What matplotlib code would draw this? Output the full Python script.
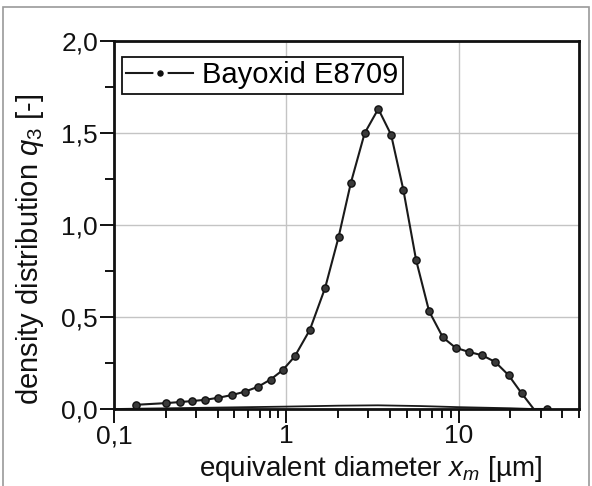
import matplotlib
matplotlib.use("Agg")
import matplotlib.pyplot as plt
from matplotlib.lines import Line2D
from matplotlib.patches import Rectangle
from matplotlib.ticker import FixedLocator, FuncFormatter, LogLocator, MultipleLocator

# particle size distribution
diameter = [0.135, 0.201, 0.243, 0.283, 0.338, 0.403, 0.484, 0.574, 0.686, 0.81,
            0.953, 1.12, 1.37, 1.68, 2.01, 2.37, 2.85, 3.42, 4.06, 4.78,
            5.67, 6.74, 8.11, 9.6, 11.5, 13.7, 16.3, 19.5, 23.2, 27.3, 32.6]
density_q3 = [0.023, 0.032, 0.038, 0.043, 0.050, 0.061, 0.076, 0.094, 0.121, 0.160,
              0.211, 0.286, 0.430, 0.658, 0.933, 1.229, 1.499, 1.631, 1.490, 1.191,
              0.809, 0.532, 0.389, 0.333, 0.310, 0.292, 0.256, 0.184, 0.086, 0.0, 0.0]
# no marker is visible at the zero crossing
hidden_points = [29]

# faint second curve lying almost on the x axis
base_diameter = [0.1, 0.3, 1.0, 2.0, 3.4, 6.0, 10.0, 20.0, 27.0]
base_q3 = [0.0, 0.006, 0.013, 0.018, 0.02, 0.016, 0.01, 0.004, 0.0]

series_label = "Bayoxid E8709"
y_ticks = [0.0, 0.5, 1.0, 1.5, 2.0]
x_ticks = [0.1, 1, 10]

plt.rcParams["font.family"] = ["Liberation Sans", "DejaVu Sans"]
plt.rcParams["mathtext.fontset"] = "custom"
plt.rcParams["mathtext.rm"] = "Liberation Sans"
plt.rcParams["mathtext.it"] = "Liberation Sans:italic"

FS = 21        # y label and legend
XLABEL_FS = 20
TICK_FS = 19
INK = "#111111"

W, H = 592, 486
fig = plt.figure(figsize=(W / 100, H / 100), dpi=100)
ax = fig.add_axes([114 / W, (H - 409) / H, (579 - 114) / W, (409 - 41) / H])

# scan border around the figure
fig.patches.append(Rectangle((3 / W, -0.05), (589 - 3) / W, (H - 7) / H + 0.05,
                             transform=fig.transFigure, fill=False,
                             edgecolor="#9a9a9a", linewidth=1.2))

ax.plot(base_diameter, base_q3, color="#1a1a1a", linewidth=1.3)
marks = [i for i in range(len(diameter)) if i not in hidden_points]
ax.plot(diameter, density_q3, color="#1a1a1a", linewidth=1.5,
        marker="o", markersize=5.2, markerfacecolor="#3a3a3a",
        markeredgecolor=INK, markeredgewidth=1.0, markevery=marks)

ax.set_xscale("log")
ax.set_xlim(0.1, 50)
ax.set_ylim(0, 2.0)


def comma(v, pos=None):
    """format numbers with a decimal comma"""
    if v >= 1:
        return f"{v:.0f}"
    return f"{v:.1f}".replace(".", ",")


ax.xaxis.set_major_locator(FixedLocator(x_ticks))
ax.xaxis.set_minor_locator(LogLocator(base=10, subs=range(2, 10)))
ax.xaxis.set_major_formatter(FuncFormatter(comma))
ax.xaxis.set_minor_formatter(FuncFormatter(lambda v, p: ""))
ax.yaxis.set_major_locator(FixedLocator(y_ticks))
ax.yaxis.set_minor_locator(MultipleLocator(0.25))
ax.yaxis.set_major_formatter(FuncFormatter(lambda v, p: f"{v:.1f}".replace(".", ",")))

ax.tick_params(which="major", direction="out", length=10, width=1.4,
               labelsize=TICK_FS, color=INK, labelcolor=INK)
ax.tick_params(which="minor", direction="out", length=6.5, width=1.4, color=INK)
ax.tick_params(axis="x", which="major", pad=1)
ax.tick_params(axis="y", which="major", pad=1.5)

for side in ax.spines.values():
    side.set_linewidth(2.0)
    side.set_color(INK)

ax.grid(True, which="major", color="#c4c4c4", linewidth=1.0)
ax.set_axisbelow(True)

# x label sits at the very bottom of the figure
ax.set_xlabel(r"equivalent diameter $x_m$ [µm]", fontsize=XLABEL_FS, color=INK)
ax.xaxis.set_label_coords(370 / W, 2 / H, transform=fig.transFigure)
ax.xaxis.label.set_va("bottom")
ax.set_ylabel(r"density distribution $q_\mathrm{3}$ [-]", fontsize=FS, color=INK)
ax.yaxis.set_label_coords(30 / W, (H - 249) / H, transform=fig.transFigure)
ax.yaxis.label.set_va("center")

# legend handle: line, gap, dot, gap, line
handle = Line2D([], [], color="#1a1a1a", linewidth=1.5, marker="o",
                markersize=7.5, markerfacecolor=INK, markeredgecolor="white",
                markeredgewidth=2.8)
leg = ax.legend([handle], [series_label], loc="upper left",
                bbox_to_anchor=(0.017, 0.957), borderaxespad=0,
                fontsize=FS, numpoints=1, handlelength=2.3, handletextpad=0.3,
                borderpad=0.15, fancybox=False, framealpha=1, edgecolor=INK)
leg.get_frame().set_linewidth(1.3)

fig.savefig("out.png", dpi=100)
